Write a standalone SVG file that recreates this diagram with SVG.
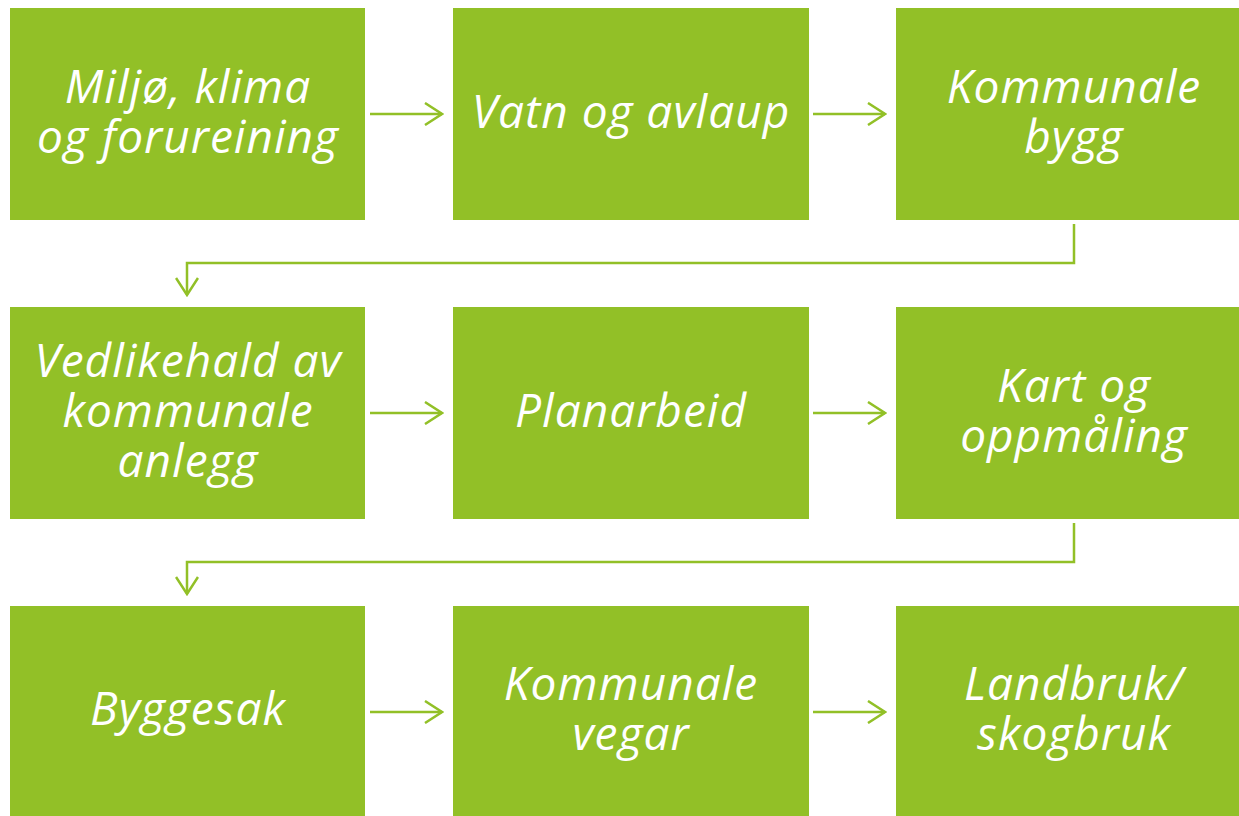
<svg xmlns="http://www.w3.org/2000/svg" width="1239" height="816" viewBox="0 0 1239 816">
<style>
.box{fill:#92C027}
.t{fill:#fff;font-family:"Open Sans","DejaVu Sans",sans-serif;font-style:italic;font-size:46px;letter-spacing:1px;text-anchor:middle}
.c{fill:none;stroke:#92C027;stroke-width:2.5}
</style>
<defs>
<marker id="ah" markerWidth="20" markerHeight="24" refX="18" refY="12" orient="auto" markerUnits="userSpaceOnUse">
<path d="M1,1 L18,12 L1,23" fill="none" stroke="#92C027" stroke-width="2.5"/>
</marker>
</defs>
<rect width="1239" height="816" fill="#fff"/>
<g id="n1"><rect class="box" x="10" y="8" width="355" height="212"/><text class="t" x="188" y="103">Miljø, klima</text><text class="t" x="188" y="153">og forureining</text></g>
<g id="n2"><rect class="box" x="453" y="8" width="356" height="212"/><text class="t" x="631" y="128">Vatn og avlaup</text></g>
<g id="n3"><rect class="box" x="896" y="8" width="343" height="212"/><text class="t" x="1074" y="103">Kommunale</text><text class="t" x="1074" y="153">bygg</text></g>
<g id="n4"><rect class="box" x="10" y="307" width="355" height="212"/><text class="t" x="188" y="377">Vedlikehald av</text><text class="t" x="188" y="427">kommunale</text><text class="t" x="188" y="477">anlegg</text></g>
<g id="n5"><rect class="box" x="453" y="307" width="356" height="212"/><text class="t" x="631" y="427">Planarbeid</text></g>
<g id="n6"><rect class="box" x="896" y="307" width="343" height="212"/><text class="t" x="1074" y="402">Kart og</text><text class="t" x="1074" y="452">oppmåling</text></g>
<g id="n7"><rect class="box" x="10" y="606" width="355" height="210"/><text class="t" x="188" y="725">Byggesak</text></g>
<g id="n8"><rect class="box" x="453" y="606" width="356" height="210"/><text class="t" x="631" y="700">Kommunale</text><text class="t" x="631" y="750">vegar</text></g>
<g id="n9"><rect class="box" x="896" y="606" width="343" height="210"/><text class="t" x="1074" y="700">Landbruk/</text><text class="t" x="1074" y="750">skogbruk</text></g>
<g id="connectors">
<path class="c" d="M370,114 H442" marker-end="url(#ah)"/>
<path class="c" d="M813,114 H885" marker-end="url(#ah)"/>
<path class="c" d="M1074,224 V263 H187 V295" marker-end="url(#ah)"/>
<path class="c" d="M370,413 H442" marker-end="url(#ah)"/>
<path class="c" d="M813,413 H885" marker-end="url(#ah)"/>
<path class="c" d="M1074,523 V562 H187 V594" marker-end="url(#ah)"/>
<path class="c" d="M370,712 H442" marker-end="url(#ah)"/>
<path class="c" d="M813,712 H885" marker-end="url(#ah)"/>
</g>
</svg>
